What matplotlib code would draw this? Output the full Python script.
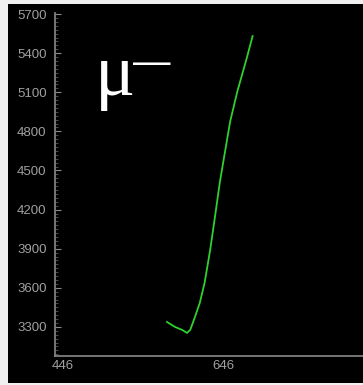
import matplotlib
matplotlib.use('Agg')
import matplotlib.pyplot as plt
from matplotlib.patches import Rectangle
from matplotlib.ticker import AutoMinorLocator

# curve
x_vals = [576, 586, 595, 601, 605, 611, 617, 623, 630, 636, 642, 649, 655,
          664, 670, 676, 683]
y_vals = [3338, 3300, 3277, 3254, 3277, 3377, 3485, 3638, 3892, 4146, 4408,
          4662, 4877, 5108, 5238, 5369, 5531]

y_ticks = [3300, 3600, 3900, 4200, 4500, 4800, 5100, 5400, 5700]
x_ticks = [446, 646]

fig = plt.figure(figsize=(3.63, 3.85), dpi=100, facecolor='#f0f0f0')

# black panel behind the plot
fig.patches.append(Rectangle((8 / 363, 2 / 385), 1 - 8 / 363, 379 / 385,
                             transform=fig.transFigure, facecolor='black',
                             edgecolor='none', zorder=-10))

ax = fig.add_axes([55 / 363, 29 / 385, 1 - 55 / 363, 343 / 385])
ax.set_facecolor('black')

ax.plot(x_vals, y_vals, color='#2ed12e', linewidth=1.3)

ax.set_xlim(436, 821)
ax.set_ylim(3077, 5708)
ax.set_xticks(x_ticks)
ax.set_yticks(y_ticks)
ax.yaxis.set_minor_locator(AutoMinorLocator(10))

for side in ['top', 'right']:
    ax.spines[side].set_visible(False)
for side in ['left', 'bottom']:
    ax.spines[side].set_color('#8a8a8a')
    ax.spines[side].set_linewidth(1.2)

ax.tick_params(axis='y', which='major', direction='in', length=4, width=0.8,
               colors='#8a8a8a', labelcolor='#a0a0a0', labelsize=9.5, pad=6)
ax.tick_params(axis='y', which='minor', direction='in', length=2, width=0.5,
               colors='#6a6a6a')
ax.tick_params(axis='x', which='major', length=0, labelcolor='#a0a0a0',
               labelsize=9.5, pad=3)
for lbl in ax.get_xticklabels() + ax.get_yticklabels():
    lbl.set_family('Liberation Sans')

# particle label
fig.text(95 / 363, 1 - 95 / 385, 'μ', color='white', fontsize=54,
         family='Liberation Serif', ha='left', va='baseline')
fig.text(133 / 363, 1 - 64 / 385, '—', color='white', fontsize=27,
         family='Liberation Sans', ha='left', va='center')

fig.savefig('out.png', dpi=100, facecolor=fig.get_facecolor())
